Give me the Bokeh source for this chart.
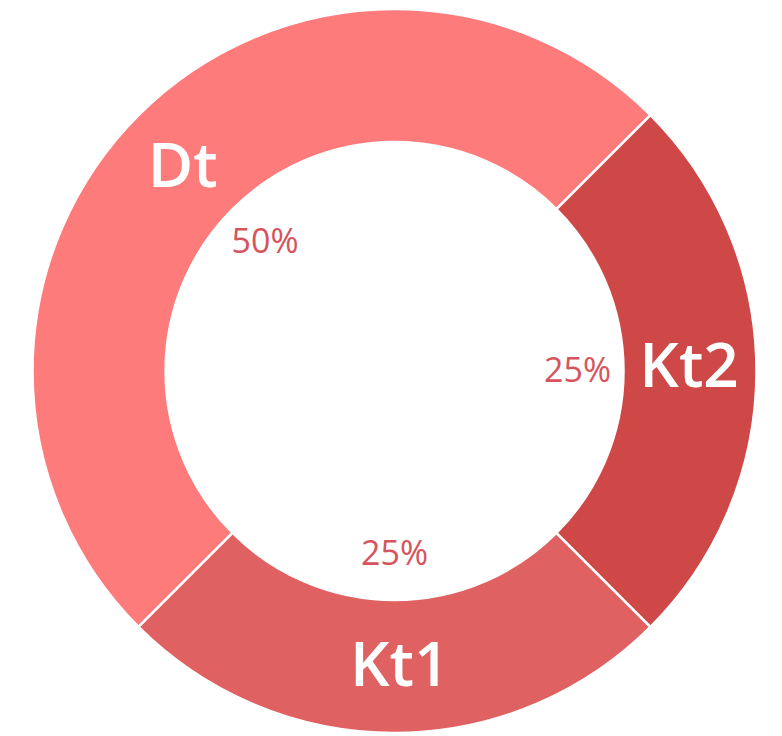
import math
from bokeh.plotting import figure
from bokeh.models import ColumnDataSource, Range1d
from bokeh.core.properties import value
from bokeh.embed import file_html
from bokeh.resources import INLINE

# Data
categories = ["Dt", "Kt1", "Kt2"]
shares = [50, 25, 25]
colors = ["#FD7B7B", "#E06161", "#CF4848"]

W, H = 782, 736
cx, cy = 394, H - 370.5
r_out, r_in = 362, 229
start0 = math.radians(45)

total = sum(shares)
starts, ends, mids = [], [], []
acc = 0.0
for s in shares:
    a0 = start0 + 2 * math.pi * acc / total
    acc += s
    a1 = start0 + 2 * math.pi * acc / total
    starts.append(a0)
    ends.append(a1)
    mids.append((a0 + a1) / 2)

r_lab = (r_out + r_in) / 2 - 1
r_pct = 183
src = ColumnDataSource(dict(
    cat=categories,
    pct=[f"{round(100 * s / total)}%" for s in shares],
    start=starts, end=ends, color=colors,
    x=[cx] * len(shares), y=[cy] * len(shares),
    lx=[cx + r_lab * math.cos(m + math.radians(1)) for m in mids],
    ly=[cy + r_lab * math.sin(m + math.radians(1)) for m in mids],
    px=[cx + r_pct * math.cos(m) for m in mids],
    py=[cy + r_pct * math.sin(m) for m in mids],
))

p = figure(width=W, height=H, output_backend="svg", toolbar_location=None,
           x_range=Range1d(0, W), y_range=Range1d(0, H), min_border=0,
           outline_line_color=None)
p.axis.visible = False
p.grid.visible = False
p.background_fill_color = "white"
p.border_fill_color = "white"

p.annular_wedge(x="x", y="y", inner_radius=r_in, outer_radius=r_out,
                start_angle="start", end_angle="end", fill_color="color",
                line_color="white", line_width=2.5, source=src)

p.text(x="lx", y="ly", text="cat", source=src, text_color="white",
       text_font=value("Open Sans SemiBold"), text_font_style="normal",
       text_font_size="62px", text_align="center", text_baseline="middle",
       y_offset=-3)
p.text(x="px", y="py", text="pct", source=src, text_color="#D6545C",
       text_font=value("Open Sans"), text_font_size="34px",
       text_align="center", text_baseline="middle", y_offset=-2)

open("out.html", "w").write(file_html(p, INLINE))
